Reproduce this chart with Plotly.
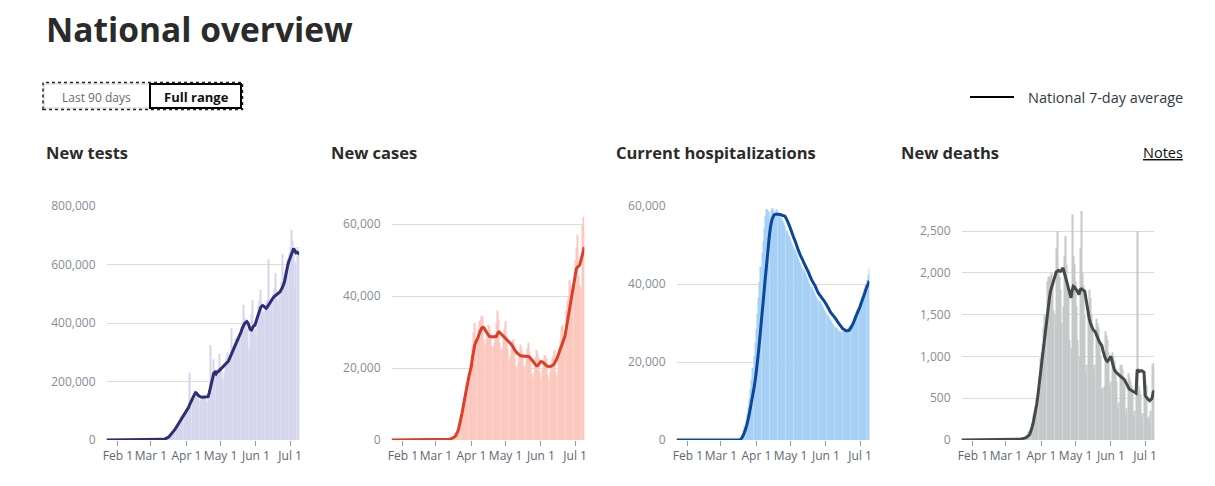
import pandas as pd
import plotly.graph_objects as go

W, H = 1215, 486

# ---------------- data (daily, 2020-01-22 .. 2020-07-09) ----------------
dates = pd.date_range("2020-01-22", "2020-07-09", freq="D").strftime("%Y-%m-%d").tolist()

tests_daily = [
    0, 0, 0, 0, 0, 0, 0, 0, 0, 0,
    0, 0, 0, 0, 0, 0, 0, 0, 0, 0,
    0, 0, 0, 0, 0, 0, 0, 0, 0, 0,
    0, 0, 0, 0, 0, 0, 0, 0, 0,
    40, 60, 150, 250, 300, 350, 500, 700, 1000, 1300, 1800, 2500,
    3500, 5000, 6000, 9000, 13000, 18000, 25000, 30000, 35000,
    36000, 45000, 55000, 60000, 70000, 78000, 84000, 80000, 95000, 100000,
    105000, 110000, 118000, 230000, 115000, 145000, 150000, 160000, 165000, 155000,
    150000, 140000, 135000, 145000, 150000, 155000, 150000, 145000, 130000, 150000,
    160000, 325000, 200000, 230000, 276000, 220000, 215000, 240000, 250000, 294000,
    250000, 240000, 210000, 230000, 265000, 280000, 300000, 280000, 270000, 260000,
    382000, 320000, 330000, 345000, 350000, 340000, 310000, 360000, 380000, 400000,
    462000, 420000, 400000, 370000, 380000, 313000, 390000, 430000, 479000, 400000,
    360000, 380000, 430000, 460000, 480000, 513000, 470000, 430000, 440000, 460000,
    470000, 480000, 618000, 470000, 440000, 470000, 500000, 520000, 570000, 510000,
    480000, 460000, 500000, 540000, 636000, 560000, 570000, 580000, 560000, 620000,
    640000, 660000, 718000, 680000, 650000, 519000, 610000, 660000, 640000, 630000,
]
tests_avg = [
    0, 0, 0, 0, 0, 0, 0, 0, 0, 0,
    0, 0, 0, 0, 0, 0, 0, 0, 0, 0,
    0, 0, 0, 0, 0, 0, 0, 0, 0, 0,
    0, 0, 0, 0, 0, 0, 0, 0, 0,
    50, 80, 120, 200, 300, 400, 500, 700, 900, 1200, 1600, 2200,
    3000, 4500, 6500, 9000, 12000, 16000, 21000, 26000, 31000,
    36000, 42000, 49000, 56000, 63000, 70000, 76000, 82000, 88000, 94000,
    100000, 106000, 112000, 122000, 132000, 141000, 148000, 155000, 162000, 160000,
    154000, 150000, 148000, 147000, 146000, 146000, 147000, 147000, 148000, 148000,
    160000, 177000, 195000, 212000, 228000, 232000, 226000, 233000, 234000, 238000,
    242000, 246000, 251000, 256000, 260000, 263000, 266000, 270000, 280000, 290000,
    298000, 306000, 316000, 325000, 333000, 343000, 352000, 360000, 370000, 382000,
    392000, 398000, 402000, 405000, 400000, 385000, 378000, 376000, 384000, 390000,
    392000, 405000, 420000, 433000, 445000, 452000, 458000, 460000, 457000, 452000,
    450000, 455000, 462000, 468000, 473000, 480000, 486000, 490000, 494000, 497000,
    500000, 503000, 506000, 512000, 520000, 530000, 541000, 560000, 585000, 600000,
    612000, 622000, 632000, 645000, 655000, 648000, 640000, 642000, 638000, 636000,
]

cases_daily = [
    0, 0, 0, 0, 0, 0, 0, 0, 0, 0,
    0, 0, 0, 0, 0, 0, 0, 0, 0, 0,
    0, 0, 0, 0, 0, 0, 0, 0, 0, 0,
    0, 0, 0, 0, 0, 0, 0, 0, 0,
    5, 8, 12, 15, 20, 25, 35, 50, 70, 90, 130,
    150, 250, 330, 420, 600, 850, 1200, 1800, 2600, 3800,
    4200, 5800, 8600, 10500, 12200, 13800, 16000, 14500, 18000, 21000,
    22500, 26000, 30000, 32500, 27000, 28500, 31000, 33000, 33500, 34500,
    34000, 28000, 26500, 28000, 29500, 32000, 31500, 29000, 26000, 25500,
    27000, 29500, 32500, 36000, 33500, 27000, 25000, 25500, 28000, 31000,
    33000, 29000, 25500, 22500, 23500, 25500, 27500, 28000, 26000, 20500,
    19500, 21500, 24000, 26500, 25500, 24000, 19000, 20500, 22500, 25500,
    27000, 24500, 22000, 18500, 17500, 19000, 23000, 25000, 24000, 23000,
    19000, 17000, 19500, 22000, 23500, 23500, 22500, 18000, 16500, 19000,
    21500, 23000, 23500, 25000, 19000, 17500, 23000, 25500, 27500, 31500,
    32000, 27000, 29000, 36000, 38500, 40000, 44500, 43000, 41000, 40500,
    44000, 50000, 53500, 57000, 45500, 43000, 42500, 60000, 62000, 58500,
]
cases_avg = [
    0, 0, 0, 0, 0, 0, 0, 0, 0, 0,
    0, 0, 0, 0, 0, 0, 0, 0, 0, 0,
    0, 0, 0, 0, 0, 0, 0, 0, 0, 0,
    0, 0, 0, 0, 0, 0, 0, 0, 0,
    5, 7, 10, 12, 15, 20, 28, 40, 60, 80, 110,
    130, 200, 290, 400, 560, 800, 1100, 1600, 2300, 3300,
    4500, 6000, 7700, 9500, 11400, 13400, 15000, 16500, 17900, 19200,
    20500, 23000, 25100, 26400, 27300, 27900, 28600, 29600, 30500, 31100,
    31300, 31200, 30600, 30000, 29500, 29100, 28800, 28700, 28700, 28600,
    28700, 28800, 28800, 29600, 30000, 29800, 29400, 29100, 28800, 28500,
    28200, 27800, 27500, 27300, 26900, 26600, 26200, 25600, 25000, 24500,
    24200, 23900, 23600, 23400, 23300, 23300, 23400, 23300, 23200, 23200,
    23200, 23000, 22700, 22300, 21900, 21400, 20900, 20600, 20600, 21000,
    21500, 21800, 21700, 21600, 21200, 20800, 20600, 20500, 20400, 20400,
    20500, 20600, 20900, 21400, 21900, 22600, 23500, 24300, 25100, 25900,
    27000, 28000, 28800, 30600, 32500, 34400, 36200, 38000, 39900, 41900,
    43800, 45600, 47500, 48000, 48400, 48600, 49800, 51100, 52600, 53600,
]

hosp_daily = [
    0, 0, 0, 0, 0, 0, 0, 0, 0, 0,
    0, 0, 0, 0, 0, 0, 0, 0, 0, 0,
    0, 0, 0, 0, 0, 0, 0, 0, 0, 0,
    0, 0, 0, 0, 0, 0, 0, 0, 0, 0,
    0, 0, 0, 0, 0, 0, 0, 0, 0, 0,
    0, 0, 0, 0, 0, 0,
    300, 800, 1500, 2500,
    3500, 5000, 6800, 8500, 10500, 13000, 15500, 18500, 21500, 25000,
    28500, 32500, 36500, 40500, 44500, 48000, 51000, 54500, 57500, 59200,
    59000, 58500, 57400, 59000, 59500, 58800, 57300, 57900, 59200, 58400,
    57500, 57000, 56800, 56200, 55800, 55000, 53800, 53200, 52500, 52000,
    51200, 50600, 49900, 49100, 48300, 47700, 47000, 46300, 45600, 45000,
    44300, 43800, 43200, 42600, 41900, 41300, 40600, 40000, 39400, 38800,
    38200, 37600, 37000, 36500, 36100, 35700, 35300, 34800, 34300, 33800,
    33200, 32700, 32200, 31600, 31100, 30700, 30300, 29800, 29400, 29000,
    28700, 28400, 28100, 27800, 27700, 27800, 27900, 28000, 28100, 28200,
    28300, 28700, 29200, 29800, 30400, 31000, 31600, 32200, 32800, 33500,
    34300, 35100, 36000, 36900, 37800, 38700, 39800, 41000, 42300, 44000,
]
hosp_avg = [
    0, 0, 0, 0, 0, 0, 0, 0, 0, 0,
    0, 0, 0, 0, 0, 0, 0, 0, 0, 0,
    0, 0, 0, 0, 0, 0, 0, 0, 0, 0,
    0, 0, 0, 0, 0, 0, 0, 0, 0, 0,
    0, 0, 0, 0, 0, 0, 0, 0, 0, 0,
    0, 0, 0, 0, 0, 0,
    100, 400, 900, 1500,
    2300, 3200, 4300, 5600, 7000, 8600, 10200, 11800, 13400, 15400,
    17700, 20300, 23000, 26000, 29200, 32400, 35600, 38800, 42000, 45000,
    48000, 51200, 53800, 55600, 56700, 57400, 57800, 57900, 57900, 57900,
    57800, 57800, 57700, 57600, 57500, 57400, 56900, 56300, 55600, 54900,
    54100, 53300, 52500, 51700, 51000, 50200, 49300, 48500, 47800, 47100,
    46500, 45900, 45200, 44600, 44000, 43400, 42800, 42000, 41400, 40800,
    40300, 39800, 39200, 38500, 37900, 37400, 37000, 36600, 36200, 35800,
    35400, 34900, 34400, 33900, 33300, 32800, 32400, 32000, 31700, 31300,
    30900, 30400, 30000, 29600, 29200, 28800, 28500, 28300, 28100, 28000,
    28000, 28100, 28400, 28900, 29400, 30000, 30700, 31500, 32200, 32900,
    33600, 34300, 35200, 36000, 36800, 37600, 38600, 39300, 40000, 40800,
]

deaths_daily = [
    0, 0, 0, 0, 0, 0, 0, 0, 0, 0,
    0, 0, 0, 0, 0, 0, 0, 0, 0, 0,
    0, 0, 0, 0, 0, 0, 0, 0, 0, 0,
    0, 0, 0, 0, 0, 0, 0, 0, 0,
    0, 1, 1, 2, 2, 3, 4, 4, 6, 7, 8,
    9, 10, 12, 15, 20, 25, 30, 45, 60, 100,
    110, 160, 220, 300, 350, 420, 510, 450, 750, 980,
    1050, 1150, 1350, 1500, 1300, 1900, 1950, 1960, 1950, 2000,
    1900, 1550, 1500, 2300, 2500, 2000, 1950, 1800, 1400, 1600,
    2200, 2440, 2100, 1900, 1800, 1200, 1100, 2700, 2200, 2100,
    1900, 1600, 1200, 1000, 2300, 2740, 2000, 1850, 1500, 800,
    900, 1600, 1800, 1700, 1500, 1300, 850, 900, 1450, 1400,
    1350, 1150, 1000, 620, 620, 650, 1300, 1250, 1200, 1050,
    650, 700, 1050, 1000, 950, 850, 700, 380, 450, 900,
    900, 850, 750, 650, 300, 380, 800, 750, 700, 650,
    550, 280, 350, 800, 2500, 650, 600, 550, 270, 320,
    750, 700, 650, 250, 280, 220, 350, 900, 920, 870,
]
deaths_avg = [
    0, 0, 0, 0, 0, 0, 0, 0, 0, 0,
    0, 0, 0, 0, 0, 0, 0, 0, 0, 0,
    0, 0, 0, 0, 0, 0, 0, 0, 0, 0,
    0, 0, 0, 0, 0, 0, 0, 0, 0,
    0, 1, 1, 2, 2, 3, 3, 4, 5, 6, 7,
    8, 9, 11, 13, 16, 20, 26, 33, 42, 55,
    75, 110, 160, 215, 280, 350, 430, 540, 660, 780,
    900, 1020, 1150, 1280, 1400, 1500, 1590, 1690, 1780, 1830,
    1860, 1900, 1960, 2010, 2020, 2030, 2020, 2020, 2040, 2060,
    2010, 1960, 1920, 1870, 1800, 1740, 1700, 1790, 1840, 1830,
    1810, 1800, 1770, 1740, 1800, 1810, 1800, 1790, 1780, 1700,
    1600, 1520, 1450, 1400, 1360, 1330, 1310, 1300, 1270, 1230,
    1200, 1170, 1150, 1130, 1070, 1010, 980, 950, 940, 960,
    990, 1000, 940, 880, 840, 820, 800, 790, 780, 770,
    760, 750, 730, 720, 690, 660, 630, 610, 600, 590,
    580, 570, 560, 560, 840, 830, 820, 830, 830, 820,
    810, 530, 510, 490, 480, 470, 480, 500, 570, 590,
]

panel_titles = ["New tests", "New cases", "Current hospitalizations", "New deaths"]
month_ticks = ["2020-02-01", "2020-03-01", "2020-04-01", "2020-05-01", "2020-06-01", "2020-07-01"]
month_labels = ["Feb 1", "Mar 1", "Apr 1", "May 1", "Jun 1", "Jul 1"]
y_ranges = [[0, 800000], [0, 65000], [0, 60000], [0, 2800]]
y_dticks = [200000, 20000, 20000, 500]
bar_colors = ["#d6d6ec", "#fcc8bd", "#a7d0f5", "#c6c9c9"]
line_colors = ["#2d2e76", "#dc3f27", "#0b489b", "#464949"]
line_shapes = ["linear", "linear", "spline", "linear"]
daily_series = [tests_daily, cases_daily, hosp_daily, deaths_daily]
avg_series = [tests_avg, cases_avg, hosp_avg, deaths_avg]

for s in daily_series + avg_series:
    assert len(s) == len(dates), len(s)

# ---------------- layout helpers ----------------
def fx(px):
    return px / W

def fy(py):
    return 1 - py / H

FONT = "Open Sans, Noto Sans, Arial, sans-serif"
PANEL_LEFT = [106.5, 391.5, 676.5, 961.5]
PANEL_W = 192.8
PLOT_TOP, PLOT_BOTTOM = 206, 440

fig = go.Figure()
layout = dict(
    width=W, height=H, autosize=False,
    margin=dict(l=0, r=0, t=0, b=0, pad=0, autoexpand=False),
    paper_bgcolor="white", plot_bgcolor="white",
    showlegend=False, bargap=0.12,
    font=dict(family=FONT, color="#333"),
)

for i in range(4):
    n = "" if i == 0 else str(i + 1)
    xa, ya = "x" + n, "y" + n
    fig.add_trace(go.Bar(x=dates, y=daily_series[i], marker=dict(color=bar_colors[i], line=dict(width=0)),
                         xaxis=xa, yaxis=ya, hoverinfo="x+y"))
    line = dict(color=line_colors[i], width=3, shape=line_shapes[i])
    if line_shapes[i] == "spline":
        line["smoothing"] = 0.5
    fig.add_trace(go.Scatter(x=dates, y=avg_series[i], mode="lines", line=line,
                             xaxis=xa, yaxis=ya, hoverinfo="x+y"))
    layout["xaxis" + n] = dict(
        domain=[fx(PANEL_LEFT[i]), fx(PANEL_LEFT[i] + PANEL_W)],
        anchor=ya, type="date", range=["2020-01-22", "2020-07-09"],
        tickvals=month_ticks, ticktext=month_labels, tickangle=0, automargin=False,
        ticks="outside", ticklen=5, tickcolor="#9a9a9a", tickwidth=1,
        showgrid=False, zeroline=False, showline=False,
        tickfont=dict(size=12, color="#5f6672", family=FONT),
        fixedrange=True,
    )
    layout["yaxis" + n] = dict(
        domain=[fy(PLOT_BOTTOM), fy(PLOT_TOP)],
        anchor=xa, range=y_ranges[i], dtick=y_dticks[i], tick0=0, automargin=False,
        tickformat=",", showgrid=True, gridcolor="#dcdcdc", gridwidth=1,
        zeroline=False, showline=False, ticks="",
        ticklabelstandoff=10,
        tickfont=dict(size=12, color="#868c97", family=FONT),
        fixedrange=True,
    )

annotations = [
    dict(text="<b>National overview</b>", x=fx(44), y=fy(29), xanchor="left", yanchor="middle",
         font=dict(size=33.5, color="#2b2b2b", family=FONT)),
    dict(text="Last 90 days", x=fx(96.5), y=fy(97), xanchor="center", yanchor="middle",
         font=dict(size=12, color="#6b6b6b", family=FONT)),
    dict(text="<b>Full range</b>", x=fx(196), y=fy(97), xanchor="center", yanchor="middle",
         font=dict(size=13, color="#111", family=FONT)),
    dict(text="National 7-day average", x=fx(1185), y=fy(97), xanchor="right", yanchor="middle",
         font=dict(size=14.5, color="#333a45", family=FONT)),
    dict(text="<u>Notes</u>", x=fx(1185), y=fy(152), xanchor="right", yanchor="middle",
         font=dict(size=14.5, color="#111", family=FONT)),
]
for i, t in enumerate(panel_titles):
    annotations.append(dict(text="<b>" + t + "</b>", x=fx(44 + 285 * i), y=fy(152.5), xanchor="left",
                            yanchor="middle", font=dict(size=16.5, color="#2b2b2b", family=FONT)))
for a in annotations:
    a.update(xref="paper", yref="paper", showarrow=False)
layout["annotations"] = annotations

layout["shapes"] = [
    dict(type="rect", xref="paper", yref="paper", x0=fx(44), x1=fx(150), y0=fy(108), y1=fy(84),
         line=dict(color="#cfcfcf", width=1), fillcolor="white"),
    dict(type="rect", xref="paper", yref="paper", x0=fx(150), x1=fx(241), y0=fy(108), y1=fy(84),
         line=dict(color="#000", width=2), fillcolor="white"),
    dict(type="rect", xref="paper", yref="paper", x0=fx(43), x1=fx(242.5), y0=fy(109.5), y1=fy(82.5),
         line=dict(color="#222", width=1.5, dash="dot")),
    dict(type="line", xref="paper", yref="paper", x0=fx(970), x1=fx(1014), y0=fy(97), y1=fy(97),
         line=dict(color="#000", width=2)),
]

fig.update_layout(**layout)

PIN = (
    "document.documentElement.style.margin='0';"
    "document.body.style.margin='0';"
    "document.body.style.overflow='hidden';"
    "var gd=document.getElementById('{plot_id}');"
    "gd.style.position='fixed';gd.style.left='0px';gd.style.top='0px';"
)
fig.write_html(
    "out.html",
    config={"responsive": False, "displayModeBar": False},
    default_width="1215px", default_height="486px",
    post_script=PIN,
)
